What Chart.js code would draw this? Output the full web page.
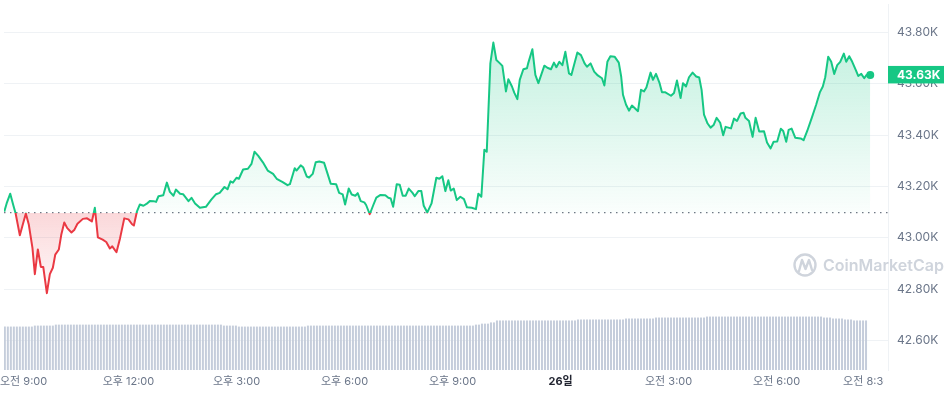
<!DOCTYPE html>
<html lang="ko">
<head>
<meta charset="utf-8">
<title>BTC 24h</title>
<script src="https://cdn.jsdelivr.net/npm/chart.js@4.4.1/dist/chart.umd.min.js"></script>
<style>
  html, body { margin: 0; padding: 0; background: #fff; }
  #wrap { width: 944px; height: 396px; }
</style>
</head>
<body>
<div id="wrap"><canvas id="priceChart" width="944" height="396"></canvas></div>
<script>
// minutes since 00:00 on the 25th (values over 1440 fall on the 26th)
const times = [
  513, 517, 523, 528, 532, 539, 543, 549, 554, 560, 564, 569, 574, 578, 584, 589,
  594, 598, 604, 608, 613, 618, 625, 630, 635, 644, 651, 659, 664, 669, 677, 683,
  689, 693, 700, 706, 713, 720, 726, 729, 734, 739, 745, 750, 756, 762, 766, 770,
  778, 784, 789, 795, 799, 806, 811, 820, 825, 831, 839, 849, 858, 866, 872, 880,
  885, 890, 894, 900, 904, 911, 919, 925, 930, 936, 944, 952, 961, 967, 977, 985,
  989, 997, 1000, 1007, 1011, 1017, 1021, 1027, 1032, 1038, 1046, 1057, 1066, 1071, 1077, 1081,
  1087, 1092, 1098, 1102, 1107, 1113, 1116, 1122, 1128, 1133, 1140, 1148, 1153, 1157, 1161, 1167,
  1172, 1177, 1182, 1187, 1193, 1197, 1203, 1208, 1212, 1218, 1225, 1233, 1238, 1243, 1248, 1253,
  1257, 1262, 1267, 1273, 1279, 1284, 1292, 1299, 1303, 1308, 1313, 1317, 1323, 1328, 1333, 1339,
  1343, 1349, 1353, 1359, 1363, 1368, 1372, 1378, 1384, 1386, 1393, 1398, 1403, 1413, 1418, 1424,
  1429, 1433, 1438, 1443, 1448, 1454, 1458, 1468, 1474, 1480, 1484, 1490, 1496, 1502, 1509, 1513,
  1518, 1523, 1530, 1537, 1541, 1544, 1549, 1554, 1559, 1569, 1574, 1579, 1583, 1590, 1594, 1599,
  1605, 1609, 1614, 1624, 1629, 1634, 1640, 1644, 1649, 1654, 1660, 1666, 1671, 1675, 1679, 1685,
  1690, 1695, 1700, 1706, 1711, 1715, 1724, 1729, 1734, 1740, 1745, 1748, 1754, 1760, 1765, 1771,
  1779, 1784, 1790, 1795, 1801, 1807, 1811, 1816, 1820, 1825, 1831, 1840, 1845, 1851, 1859, 1866,
  1872, 1877, 1881, 1886, 1891, 1896, 1901, 1906, 1912, 1916, 1921, 1926, 1932, 1936, 1941, 1946,
  1950, 1956
];

// BTC price in USD
const prices = [
  43102, 43134, 43172, 43128, 43095, 43010, 43044, 43095, 43051, 42961, 42859, 42955, 42887, 42887, 42785, 42859,
  42884, 42935, 42955, 43012, 43060, 43038, 43021, 43032, 43055, 43074, 43076, 43064, 43117, 43002, 42993, 42984,
  42959, 42967, 42944, 42999, 43076, 43072, 43053, 43048, 43102, 43130, 43125, 43132, 43144, 43143, 43140, 43162,
  43166, 43215, 43179, 43164, 43188, 43172, 43170, 43143, 43156, 43134, 43117, 43121, 43149, 43170, 43175, 43198,
  43189, 43220, 43215, 43234, 43230, 43266, 43269, 43288, 43335, 43320, 43294, 43262, 43249, 43230, 43217, 43205,
  43209, 43271, 43262, 43282, 43275, 43239, 43235, 43249, 43294, 43297, 43292, 43211, 43209, 43175, 43169, 43130,
  43192, 43169, 43164, 43174, 43143, 43138, 43128, 43092, 43128, 43157, 43167, 43166, 43156, 43153, 43121, 43209,
  43207, 43164, 43164, 43192, 43176, 43162, 43182, 43182, 43125, 43099, 43134, 43234, 43230, 43240, 43182, 43224,
  43184, 43192, 43147, 43160, 43151, 43119, 43117, 43112, 43172, 43160, 43343, 43335, 43679, 43760, 43692, 43679,
  43669, 43570, 43617, 43589, 43564, 43540, 43615, 43656, 43660, 43679, 43734, 43634, 43602, 43670, 43662, 43656,
  43682, 43664, 43685, 43672, 43724, 43640, 43634, 43721, 43711, 43679, 43666, 43679, 43647, 43632, 43621, 43593,
  43685, 43707, 43705, 43682, 43628, 43557, 43519, 43495, 43515, 43493, 43576, 43570, 43585, 43643, 43615, 43638,
  43602, 43567, 43567, 43553, 43564, 43612, 43544, 43602, 43589, 43625, 43643, 43628, 43624, 43576, 43480, 43445,
  43429, 43439, 43467, 43448, 43399, 43432, 43426, 43464, 43455, 43484, 43487, 43467, 43455, 43393, 43467, 43414,
  43415, 43371, 43348, 43374, 43375, 43425, 43416, 43374, 43420, 43425, 43390, 43387, 43380, 43416, 43470, 43519,
  43566, 43589, 43625, 43705, 43685, 43638, 43672, 43685, 43717, 43685, 43707, 43685, 43653, 43630, 43638, 43621,
  43634, 43634
];

// volume bars, one per 5 minutes (billions USD)
const volumes = [
  17.8, 17.8, 17.8, 17.8, 17.8, 17.8, 17.8, 17.8, 17.8, 17.8, 18.2, 18.2, 18.2, 18.2, 18.2, 18.2,
  18.2, 18.6, 18.6, 18.6, 18.6, 18.6, 18.6, 18.6, 18.6, 18.6, 18.6, 18.6, 18.6, 18.6, 18.6, 18.6,
  18.6, 18.6, 18.6, 18.6, 18.6, 18.6, 18.6, 18.6, 18.6, 18.6, 18.6, 18.6, 18.6, 18.6, 18.6, 18.6,
  18.6, 18.6, 18.6, 18.6, 18.6, 18.6, 18.6, 18.6, 18.6, 18.6, 18.6, 18.6, 18.6, 18.6, 18.6, 18.6,
  18.6, 18.6, 18.6, 18.6, 18.6, 18.6, 18.6, 18.6, 18.6, 18.2, 18.2, 18.2, 18.2, 18.2, 17.8, 17.8,
  17.8, 17.8, 17.8, 17.8, 17.8, 17.8, 17.8, 17.8, 17.8, 17.8, 17.8, 17.8, 17.8, 17.8, 17.8, 17.8,
  17.8, 17.8, 17.8, 17.8, 17.8, 18.2, 18.2, 18.2, 18.2, 18.2, 18.2, 18.2, 18.2, 18.2, 18.2, 18.2,
  18.2, 18.2, 18.2, 18.2, 18.2, 18.2, 18.2, 18.2, 18.2, 18.2, 18.2, 18.2, 18.2, 18.2, 18.2, 18.2,
  18.2, 18.2, 18.2, 18.2, 18.2, 18.2, 18.2, 18.2, 18.2, 18.2, 18.2, 18.2, 18.2, 18.2, 18.2, 18.2,
  18.2, 18.2, 18.2, 18.2, 18.2, 18.2, 18.2, 18.2, 18.2, 18.2, 18.2, 18.2, 18.2, 18.6, 18.6, 19.0,
  19.0, 19.0, 19.5, 19.5, 20.3, 20.3, 20.3, 20.3, 20.3, 20.3, 20.3, 20.3, 20.3, 20.3, 20.3, 20.3,
  20.3, 20.3, 20.3, 20.3, 20.3, 20.3, 20.3, 20.3, 20.3, 20.3, 20.3, 20.3, 20.3, 20.3, 20.3, 20.7,
  20.7, 20.7, 20.7, 20.7, 20.7, 20.7, 20.7, 20.7, 20.7, 20.7, 20.7, 20.7, 20.7, 20.7, 20.7, 21.1,
  21.1, 21.1, 21.1, 21.1, 21.1, 21.1, 21.1, 21.1, 21.1, 21.5, 21.5, 21.5, 21.5, 21.5, 21.5, 21.5,
  21.5, 21.5, 21.5, 21.5, 21.5, 21.5, 21.5, 21.5, 21.5, 21.5, 21.9, 21.9, 21.9, 21.9, 21.9, 21.9,
  21.9, 21.9, 21.9, 21.9, 21.9, 21.9, 21.9, 21.9, 21.9, 21.9, 21.9, 21.9, 21.9, 21.9, 21.9, 21.9,
  21.9, 21.9, 21.9, 21.9, 21.9, 21.9, 21.9, 21.9, 21.9, 21.9, 21.9, 21.9, 21.9, 21.9, 21.9, 21.9,
  21.9, 21.5, 21.5, 21.5, 21.1, 21.1, 21.1, 21.1, 20.7, 20.7, 20.7, 20.3, 20.3, 20.3, 20.3, 20.3
];
const volStart = 514;   // first bar, minutes
const volStep = 5;

const baseline = 43098;   // price 24h ago (dotted line)
const yTicks = [42600, 42800, 43000, 43200, 43400, 43600, 43800];
const xTicks = [540, 720, 900, 1080, 1260, 1440, 1620, 1800, 1950];
const xTickLabels = ['오전 9:00', '오후 12:00', '오후 3:00', '오후 6:00', '오후 9:00', '26일', '오전 3:00', '오전 6:00', '오전 8:30'];

const xMin = 512.6, xMax = 1985.6;
const yMin = 42486, yMax = 43910;

const GREEN = '#16c784';
const RED = '#ea3943';
const FONT = 'Inter, "Noto Sans CJK KR", sans-serif';

Chart.defaults.font.family = FONT;

// line colour flips at the baseline
function lineColor(context) {
    const chart = context.chart;
    const area = chart.chartArea;
    if (!area) return GREEN;
    const yb = chart.scales.y.getPixelForValue(baseline);
    const f = Math.min(1, Math.max(0, (yb - area.top) / (area.bottom - area.top)));
    const g = chart.ctx.createLinearGradient(0, area.top, 0, area.bottom);
    g.addColorStop(0, GREEN);
    g.addColorStop(f, GREEN);
    g.addColorStop(f, RED);
    g.addColorStop(1, RED);
    return g;
}

// green wash above, red wash below, both fading towards/away from the baseline
function areaColor(context) {
    const chart = context.chart;
    const area = chart.chartArea;
    if (!area) return 'rgba(22,199,132,0.1)';
    const y = chart.scales.y;
    const h = area.bottom - area.top;
    const frac = p => Math.min(1, Math.max(0, (p - area.top) / h));
    const fHigh = frac(y.getPixelForValue(Math.max(...prices)));
    const fBase = frac(y.getPixelForValue(baseline));
    const fLow = frac(y.getPixelForValue(Math.min(...prices)) + 8);
    const g = chart.ctx.createLinearGradient(0, area.top, 0, area.bottom);
    g.addColorStop(0, 'rgba(22,199,132,0.27)');
    g.addColorStop(fHigh, 'rgba(22,199,132,0.25)');
    g.addColorStop(fBase, 'rgba(22,199,132,0.02)');
    g.addColorStop(fBase, 'rgba(234,57,67,0.2)');
    g.addColorStop(fLow, 'rgba(234,57,67,0.01)');
    g.addColorStop(1, 'rgba(234,57,67,0)');
    return g;
}

// x labels drawn by hand so the first one stays inside the canvas
const xLabelPlugin = {
    id: 'xLabels',
    afterDraw(chart) {
        const { ctx, chartArea } = chart;
        const x = chart.scales.x;
        ctx.save();
        ctx.beginPath();
        ctx.rect(0, chartArea.bottom, 884, chart.height - chartArea.bottom);
        ctx.clip();
        ctx.textBaseline = 'middle';
        xTicks.forEach((t, i) => {
            const text = xTickLabels[i];
            const bold = text === '26일';
            ctx.font = (bold ? '700 ' : '400 ') + '11px ' + FONT;
            ctx.fillStyle = bold ? '#222531' : '#6b7689';
            const w = ctx.measureText(text).width;
            const left = Math.max(0, x.getPixelForValue(t) - w / 2);
            ctx.fillText(text, left, chartArea.bottom + 12);
        });
        ctx.restore();
    }
};

// CoinMarketCap watermark
const watermarkPlugin = {
    id: 'watermark',
    beforeDatasetsDraw(chart) {
        const ctx = chart.ctx;
        ctx.save();
        ctx.strokeStyle = '#cfd4dc';
        ctx.fillStyle = '#cfd4dc';
        ctx.lineWidth = 2.4;
        ctx.lineJoin = 'round';
        ctx.lineCap = 'round';
        ctx.beginPath();
        ctx.arc(805, 265, 10.5, 0, Math.PI * 2);
        ctx.stroke();
        ctx.beginPath();
        ctx.moveTo(799, 271);
        ctx.lineTo(802, 260);
        ctx.lineTo(805.5, 269);
        ctx.lineTo(809, 260);
        ctx.lineTo(812, 270);
        ctx.stroke();
        ctx.font = '600 16px ' + FONT;
        ctx.textBaseline = 'middle';
        ctx.fillText('CoinMarketCap', 823, 266);
        ctx.restore();
    }
};

// current price tag on the y axis
const priceTagPlugin = {
    id: 'priceTag',
    afterDraw(chart) {
        const { ctx, chartArea } = chart;
        const last = prices[prices.length - 1];
        const yPix = chart.scales.y.getPixelForValue(last);
        ctx.save();
        ctx.fillStyle = GREEN;
        ctx.fillRect(chartArea.right, yPix - 9, chart.width - chartArea.right, 17.5);
        ctx.fillStyle = '#fff';
        ctx.font = '700 12px ' + FONT;
        ctx.textBaseline = 'middle';
        ctx.fillText((last / 1000).toFixed(2) + 'K', chartArea.right + 9, yPix + 0.5);
        ctx.restore();
    }
};

const lastIndex = prices.length - 1;

new Chart(document.getElementById('priceChart').getContext('2d'), {
    type: 'line',
    data: {
        datasets: [
            {
                label: 'Price',
                data: times.map((t, i) => ({ x: t, y: prices[i] })),
                borderColor: lineColor,
                backgroundColor: areaColor,
                borderWidth: 2,
                tension: 0,
                borderJoinStyle: 'round',
                fill: { value: baseline },
                pointRadius: ctx => (ctx.dataIndex === lastIndex ? 4 : 0),
                pointBackgroundColor: GREEN,
                pointBorderWidth: 0,
                order: 1
            },
            {
                label: 'Baseline',
                data: [{ x: xMin, y: baseline }, { x: xMax, y: baseline }],
                borderColor: '#6f7784',
                borderWidth: 1.2,
                borderDash: [1.5, 4.5],
                pointRadius: 0,
                fill: false,
                order: 2
            },
            {
                type: 'bar',
                label: 'Volume',
                data: volumes.map((v, i) => ({ x: volStart + i * volStep, y: v })),
                yAxisID: 'yVol',
                backgroundColor: '#c5cddb',
                barThickness: 2,
                inflateAmount: 0,
                order: 3
            }
        ]
    },
    options: {
        responsive: false,
        animation: false,
        events: [],
        layout: { padding: 0 },
        plugins: {
            legend: { display: false },
            tooltip: { enabled: false }
        },
        scales: {
            x: {
                type: 'linear',
                min: xMin,
                max: xMax,
                offset: false,
                grid: { display: false, offset: false },
                border: { display: false },
                ticks: { display: false },
                afterFit(scale) {
                    scale.height = 26;
                    scale.paddingLeft = 0;
                    scale.paddingRight = 0;
                }
            },
            y: {
                position: 'right',
                min: yMin,
                max: yMax,
                afterBuildTicks(scale) {
                    scale.ticks = yTicks.map(v => ({ value: v }));
                },
                grid: { color: '#eff2f5', drawTicks: false },
                border: { color: '#eff2f5' },
                ticks: {
                    padding: 9,
                    color: '#6b7689',
                    font: { size: 12 },
                    callback: v => (v / 1000).toFixed(2) + 'K'
                },
                afterFit(scale) {
                    scale.width = 56;
                    scale.paddingTop = 0;
                    scale.paddingBottom = 0;
                }
            },
            yVol: {
                display: false,
                min: 0,
                max: 150
            }
        }
    },
    plugins: [watermarkPlugin, xLabelPlugin, priceTagPlugin]
});
</script>
</body>
</html>
